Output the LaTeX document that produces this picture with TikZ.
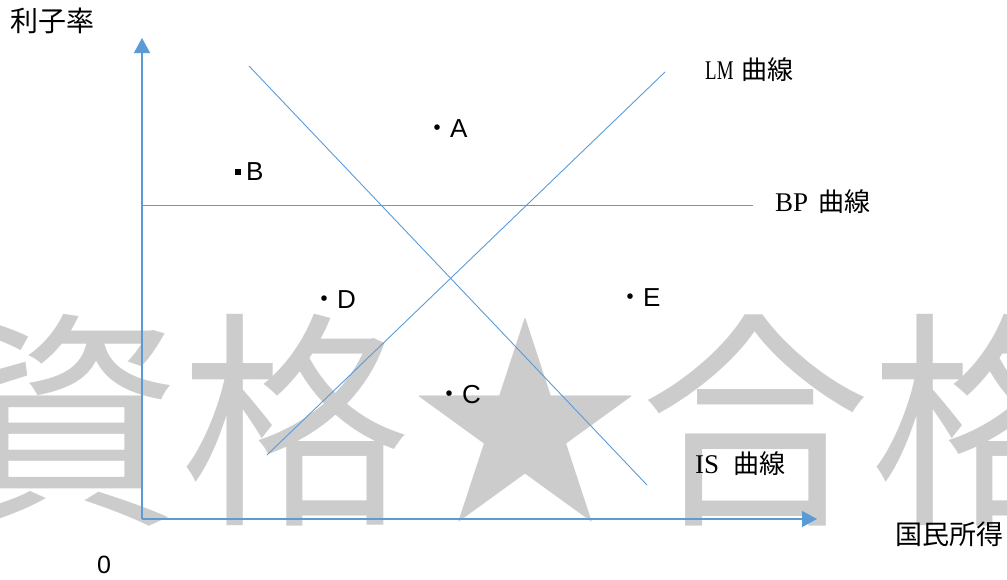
\documentclass[tikz,border=0pt]{standalone}
\usepackage{fontspec}
\setmainfont{Liberation Serif}
\newfontfamily\jp{Noto Sans CJK JP}
\newfontfamily\arial{Liberation Sans}
\newfontfamily\narrowserif[FakeStretch=0.7]{Liberation Serif}
\usepackage{xcolor}
\usetikzlibrary{arrows.meta}
\definecolor{lineblue}{RGB}{91,155,213}
\definecolor{markgray}{RGB}{204,204,204}

\begin{document}
\begin{tikzpicture}[x=1pt, y=-1pt,
    curve/.style={draw=lineblue, line width=0.9pt},
    axis/.style={draw=lineblue, line width=1.3pt, -{Triangle[length=15pt, width=16pt]}},
    pointlabel/.style={font=\fontsize{26}{26}\selectfont\arial, inner sep=0pt, anchor=west},
    curvelabel/.style={font=\fontsize{27}{27}\selectfont, inner sep=0pt, anchor=west}]
        \useasboundingbox (0,0) rectangle (1007,579);
        % watermark
        \node (mark) at (526,420) [text=markgray, font=\fontsize{230}{230}\selectfont\jp, inner sep=0pt] {資格★合格};
        % axes and curves
        \coordinate (O) at (142,519);
        \coordinate (ytip) at (142,38);
        \coordinate (xtip) at (817,519);
        \coordinate (IS1) at (249,66);
        \coordinate (IS2) at (647,485);
        \coordinate (LM1) at (267,455);
        \coordinate (LM2) at (665,72);
        \coordinate (BP1) at (142,205);
        \coordinate (BP2) at (753,205);
        \draw [axis] (O) -- (ytip);
        \draw [axis] (O) -- (xtip);
        \draw [curve] (IS1) -- (IS2);
        \draw [curve] (LM1) -- (LM2);
        \draw [curve] (BP1) -- (BP2);
        % labels
        \node (rate) at (10,21) [anchor=west, inner sep=0pt, font=\fontsize{28}{28}\selectfont\jp] {利子率};
        \node (income) at (895,534) [anchor=west, inner sep=0pt, font=\fontsize{27}{27}\selectfont\jp] {国民所得};
        \node (zero) at (104,565) [inner sep=0pt, font=\fontsize{25}{25}\selectfont\arial] {0};
        \node (LMlab) at (705,70) [curvelabel] {{\narrowserif LM}\hspace{8pt}{\fontsize{26}{26}\selectfont\jp 曲線}};
        \node (BPlab) at (775,202) [curvelabel] {BP\hspace{10pt}{\fontsize{26}{26}\selectfont\jp 曲線}};
        \node (ISlab) at (695,464) [curvelabel] {IS\hspace{14pt}{\fontsize{26}{26}\selectfont\jp 曲線}};
        % points
        \node (A) at (424,129) [pointlabel] {{\jp ・}A};
        \node (B) at (235,172) [pointlabel] {\rule[6pt]{6pt}{6pt}\hspace{5pt}B};
        \node (C) at (436,395) [pointlabel] {{\jp ・}C};
        \node (D) at (311,300) [pointlabel] {{\jp ・}D};
        \node (E) at (617,298) [pointlabel] {{\jp ・}E};
    \end{tikzpicture}
\end{document}
